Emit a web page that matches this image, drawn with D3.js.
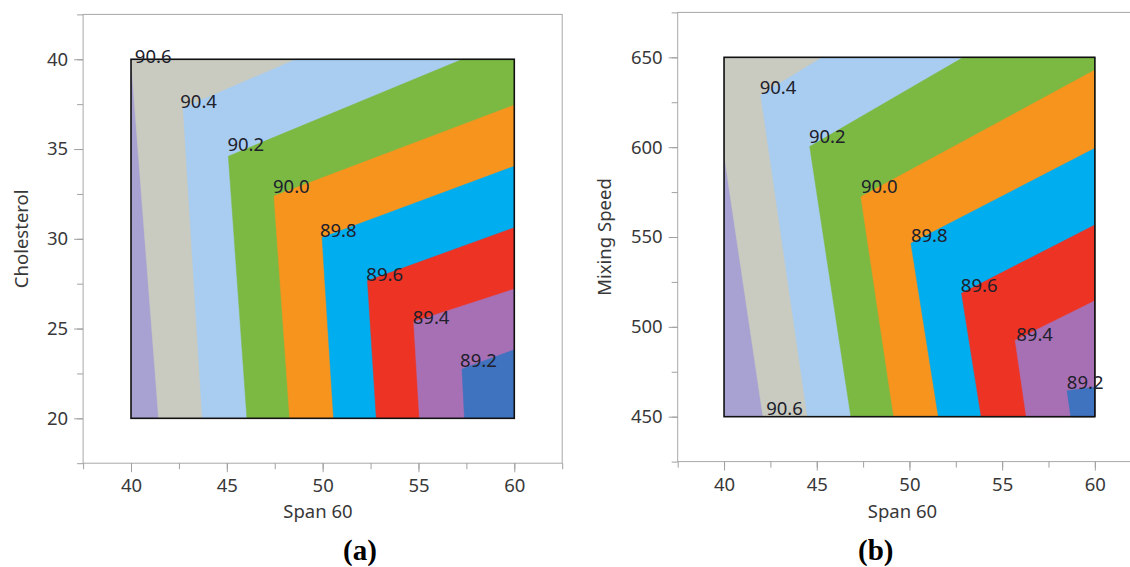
<!DOCTYPE html>
<html>
<head>
<meta charset="utf-8">
<script src="https://cdn.jsdelivr.net/npm/d3@7"></script>
<style>
  body { margin: 0; background: #fff; }
  svg { display: block; }
</style>
</head>
<body>
<svg id="chart" width="1130" height="567"></svg>
<script>
// Contour levels shared by both panels (highest first)
const levels = [90.6, 90.4, 90.2, 90.0, 89.8, 89.6, 89.4, 89.2];
// Band fills: region above the highest level first, region below the lowest level last
const bandColors = ["#a7a2d1", "#c9cbc1", "#a8cdf0", "#7bb943", "#f7941e",
                    "#00adef", "#ed3324", "#a870b4", "#3f72bf"];

const spanTicks = [40, 45, 50, 55, 60];
const cholesterolTicks = [20, 25, 30, 35, 40];
const mixingTicks = [450, 500, 550, 600, 650];

// Panel (a): Span 60 vs Cholesterol — one polyline per level, starting on the bottom edge
const contoursA = [
  [[41.44, 20], [40.00, 40.00]],
  [[43.72, 20], [42.72, 37.29], [48.62, 40]],
  [[46.05, 20], [45.08, 34.60], [57.30, 40]],
  [[48.28, 20], [47.46, 32.38], [60, 37.45]],
  [[50.57, 20], [49.97, 30.07], [60, 34.04]],
  [[52.80, 20], [52.34, 27.66], [60, 30.62]],
  [[55.05, 20], [54.75, 25.38], [60, 27.20]],
  [[57.40, 20], [57.27, 22.75], [60, 23.82]]
];
const labelsA = [
  [40.20, 39.78], [42.57, 37.29], [45.03, 34.88], [47.41, 32.53],
  [49.86, 30.12], [52.28, 27.66], [54.70, 25.25], [57.17, 22.84]
];

// Panel (b): Span 60 vs Mixing Speed
const contoursB = [
  [[42.10, 450], [40.00, 596.0]],
  [[44.50, 450], [41.98, 629.0], [45.30, 650]],
  [[46.84, 450], [44.62, 600.3], [52.91, 650]],
  [[49.15, 450], [47.38, 572.4], [60, 642.9]],
  [[51.56, 450], [50.08, 546.5], [60, 599.4]],
  [[53.87, 450], [52.81, 518.7], [60, 556.7]],
  [[56.30, 450], [55.70, 492.5], [60, 514.5]],
  [[58.70, 450], [58.50, 464.5], [60, 466.5]]
];
const labelsB = [
  [42.27, 450.9], [41.92, 629.6], [44.58, 602.5], [47.38, 574.3],
  [50.08, 547.4], [52.77, 519.6], [55.76, 492.3], [58.49, 465.3]
];

const svg = d3.select("#chart");
const FONT = "'Noto Sans', 'Open Sans', sans-serif";
const FS = 18.5;

function drawPanel(cfg) {
  const x = d3.scaleLinear().domain(cfg.xFrame).range([cfg.left, cfg.right]);
  const y = d3.scaleLinear().domain(cfg.yFrame).range([cfg.bottom, cfg.top]);
  const g = svg.append("g");

  const [x0, x1] = cfg.xData, [y0, y1] = cfg.yData;

  // position of a boundary point along the plot edge, running clockwise from the bottom-left corner
  function perim(p) {
    const e = 1e-6;
    if (Math.abs(p[0] - x0) < e) return (p[1] - y0) / (y1 - y0);
    if (Math.abs(p[1] - y1) < e) return 1 + (p[0] - x0) / (x1 - x0);
    if (Math.abs(p[0] - x1) < e) return 2 + (y1 - p[1]) / (y1 - y0);
    return 3 + (x1 - p[0]) / (x1 - x0);
  }
  const corners = [[x0, y0], [x0, y1], [x1, y1], [x1, y0]];

  // region on the low side of a contour: the polyline, then the plot edge clockwise back to its start
  function lowRegion(line) {
    const pts = line.slice();
    const tE = perim(line[line.length - 1]);
    let tS = perim(line[0]);
    if (tS <= tE) tS += 4;
    for (let k = Math.floor(tE) + 1; k < tS; k++) pts.push(corners[k % 4]);
    return pts;
  }

  const path = d3.line().x(d => x(d[0])).y(d => y(d[1]));

  // base band (above the highest level)
  g.append("path")
    .attr("d", path(corners) + "Z")
    .attr("fill", bandColors[0]);

  g.selectAll("path.band")
    .data(cfg.contours)
    .join("path")
    .attr("class", "band")
    .attr("d", d => path(lowRegion(d)) + "Z")
    .attr("fill", (d, i) => bandColors[i + 1])
    .attr("stroke", (d, i) => bandColors[i + 1])
    .attr("stroke-width", 0.5);

  // plot region border
  g.append("rect")
    .attr("x", x(x0)).attr("y", y(y1))
    .attr("width", x(x1) - x(x0)).attr("height", y(y0) - y(y1))
    .attr("fill", "none").attr("stroke", "#111").attr("stroke-width", 1.6);

  // contour labels
  g.selectAll("text.lvl")
    .data(levels)
    .join("text")
    .attr("class", "lvl")
    .attr("x", (d, i) => x(cfg.labels[i][0]))
    .attr("y", (d, i) => y(cfg.labels[i][1]))
    .attr("font-family", FONT).attr("font-size", FS)
    .attr("fill", "#20202c")
    .text(d => d.toFixed(1));

  // graph frame
  g.append("rect")
    .attr("x", cfg.left).attr("y", cfg.top)
    .attr("width", cfg.right - cfg.left).attr("height", cfg.bottom - cfg.top)
    .attr("fill", "none").attr("stroke", "#a8a8a8").attr("stroke-width", 1);

  // axes: minor ticks then labelled major ticks
  const styleAxis = sel => {
    sel.select(".domain").remove();
    sel.selectAll("line").attr("stroke", "#a0a0a0");
    sel.selectAll("text").attr("font-family", FONT).attr("font-size", FS).attr("fill", "#383838");
  };
  g.append("g").attr("transform", `translate(0,${cfg.bottom})`)
    .call(d3.axisBottom(x).tickValues(cfg.xMinor).tickSize(6).tickFormat(""))
    .call(styleAxis);
  g.append("g").attr("transform", `translate(0,${cfg.bottom})`)
    .call(d3.axisBottom(x).tickValues(cfg.xTicks).tickSize(9).tickPadding(7))
    .call(styleAxis);
  g.append("g").attr("transform", `translate(${cfg.left},0)`)
    .call(d3.axisLeft(y).tickValues(cfg.yMinor).tickSize(6).tickFormat(""))
    .call(styleAxis);
  g.append("g").attr("transform", `translate(${cfg.left},0)`)
    .call(d3.axisLeft(y).tickValues(cfg.yTicks).tickSize(9).tickPadding(6))
    .call(styleAxis);

  // axis titles
  g.append("text")
    .attr("x", cfg.xTitleX).attr("y", 518)
    .attr("text-anchor", "middle")
    .attr("font-family", FONT).attr("font-size", FS).attr("fill", "#383838")
    .text(cfg.xTitle);
  g.append("text")
    .attr("transform", `translate(${cfg.yTitleX},${(cfg.top + cfg.bottom) / 2}) rotate(-90)`)
    .attr("text-anchor", "middle")
    .attr("font-family", FONT).attr("font-size", FS).attr("fill", "#383838")
    .text(cfg.yTitle);

  // panel tag
  g.append("text")
    .attr("x", cfg.tagX).attr("y", 560)
    .attr("text-anchor", "middle")
    .attr("font-family", "'Liberation Serif', 'Times New Roman', serif")
    .attr("font-weight", "bold").attr("font-size", 29).attr("fill", "#000")
    .text(cfg.tag);
}

drawPanel({
  left: 83.1, right: 562.2, top: 14.4, bottom: 463.2,
  xFrame: [37.5, 62.5], yFrame: [17.5, 42.5],
  xData: [40, 60], yData: [20, 40],
  xTicks: spanTicks, xMinor: d3.range(37.5, 62.51, 2.5),
  yTicks: cholesterolTicks, yMinor: d3.range(17.5, 42.51, 2.5),
  contours: contoursA, labels: labelsA,
  xTitle: "Span 60", xTitleX: 318,
  yTitle: "Cholesterol", yTitleX: 27.5,
  tag: "(a)", tagX: 360
});

drawPanel({
  left: 677.7, right: 1141.2, top: 12.4, bottom: 461.6,
  xFrame: [37.5, 62.5], yFrame: [425, 675],
  xData: [40, 60], yData: [450, 650],
  xTicks: spanTicks, xMinor: d3.range(37.5, 62.51, 2.5),
  yTicks: mixingTicks, yMinor: d3.range(425, 675.1, 25),
  contours: contoursB, labels: labelsB,
  xTitle: "Span 60", xTitleX: 902.5,
  yTitle: "Mixing Speed", yTitleX: 611,
  tag: "(b)", tagX: 875.7
});
</script>
</body>
</html>
